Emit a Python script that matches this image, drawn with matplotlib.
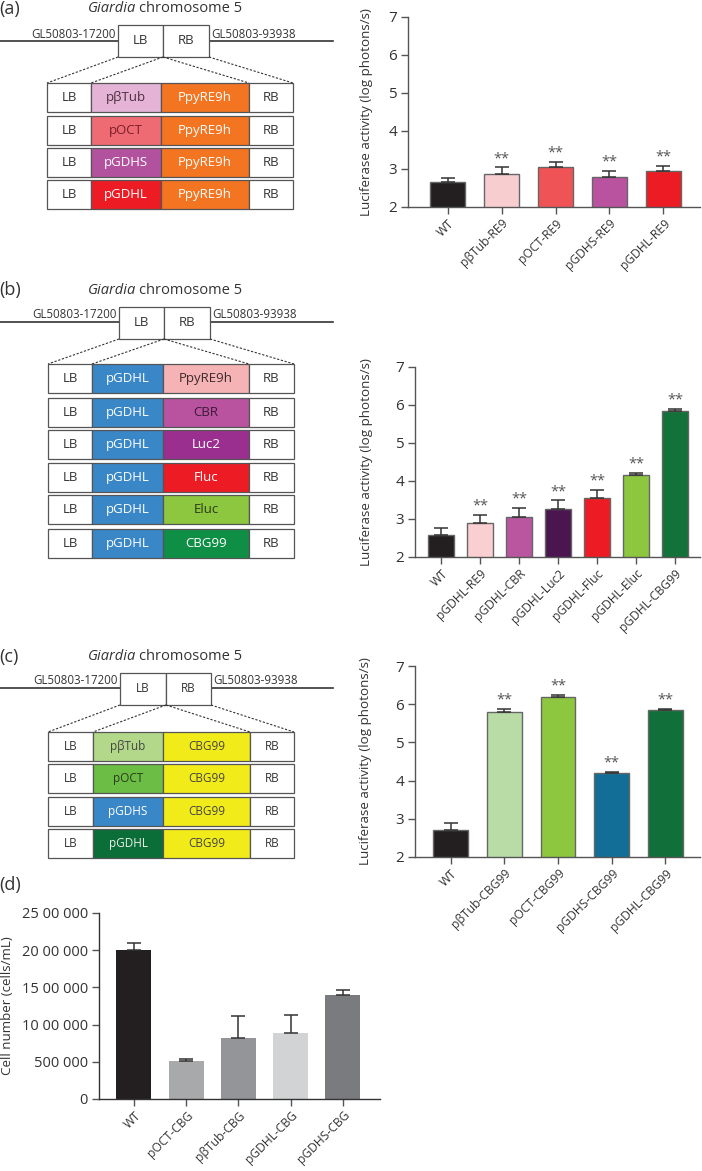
import matplotlib
matplotlib.use("Agg")
import matplotlib.pyplot as plt
from matplotlib.patches import Rectangle

plt.rcParams['font.family'] = ['Open Sans', 'DejaVu Sans']
TXT = '#333333'
AXC = '#555555'

# ---------------- data ----------------
a_labels = ['WT', 'pβTub-RE9', 'pOCT-RE9', 'pGDHS-RE9', 'pGDHL-RE9']
a_values = [2.65, 2.87, 3.04, 2.79, 2.96]
a_err = [0.11, 0.17, 0.14, 0.15, 0.13]
a_sig = ['', '**', '**', '**', '**']
a_colors = ['#231f20', '#f8cdd0', '#ef5356', '#b9529f', '#ed1c24']

b_labels = ['WT', 'pGDHL-RE9', 'pGDHL-CBR', 'pGDHL-Luc2', 'pGDHL-Fluc', 'pGDHL-Eluc', 'pGDHL-CBG99']
b_values = [2.57, 2.90, 3.05, 3.26, 3.56, 4.15, 5.85]
b_err = [0.19, 0.21, 0.24, 0.23, 0.21, 0.06, 0.04]
b_sig = ['', '**', '**', '**', '**', '**', '**']
b_colors = ['#231f20', '#f9cfd2', '#b9569f', '#4b154f', '#ed1c24', '#8dc63f', '#12723a']

c_labels = ['WT', 'pβTub-CBG99', 'pOCT-CBG99', 'pGDHS-CBG99', 'pGDHL-CBG99']
c_values = [2.71, 5.79, 6.20, 4.20, 5.85]
c_err = [0.17, 0.09, 0.05, 0.03, 0.03]
c_sig = ['', '**', '**', '**', '**']
c_colors = ['#231f20', '#b9dca6', '#8dc63f', '#126e96', '#11703a']

d_labels = ['WT', 'pOCT-CBG', 'pβTub-CBG', 'pGDHL-CBG', 'pGDHS-CBG']
d_values = [19970000, 5160000, 8260000, 8840000, 13960000]
d_err = [990000, 180000, 2830000, 2460000, 720000]
d_colors = ['#231f20', '#a8a9ab', '#939598', '#d1d3d4', '#7a7b7f']
d_ticks = [0, 5000000, 10000000, 15000000, 20000000, 25000000]
d_ticklabels = ['0', '500 000', '10 00 000', '15 00 000', '20 00 000', '25 00 000']

lum_ticks = [2, 3, 4, 5, 6, 7]

# diagram content
a_promoters = ['pβTub', 'pOCT', 'pGDHS', 'pGDHL']
a_prom_colors = ['#e5b3d6', '#ef6b73', '#b2519e', '#ed1c24']
a_prom_text = ['#4a3040', '#7a1f25', 'white', 'white']
a_genes = ['PpyRE9h'] * 4
a_gene_colors = ['#f47521'] * 4
a_gene_text = ['white'] * 4

b_promoters = ['pGDHL'] * 6
b_prom_colors = ['#3a87c8'] * 6
b_prom_text = ['white'] * 6
b_genes = ['PpyRE9h', 'CBR', 'Luc2', 'Fluc', 'Eluc', 'CBG99']
b_gene_colors = ['#f6b3b5', '#b9539f', '#9b2f8f', '#ed1c24', '#8dc63f', '#0f8f46']
b_gene_text = ['#3a2a2a', '#3a1a35', 'white', 'white', '#2a3a1a', 'white']

c_promoters = ['pβTub', 'pOCT', 'pGDHS', 'pGDHL']
c_prom_colors = ['#b3d88a', '#6cbd45', '#3a87c8', '#0b6e38']
c_prom_text = ['#444444', '#2a3a1a', 'white', '#e8f0e8']
c_genes = ['CBG99'] * 4
c_gene_colors = ['#f2eb1a'] * 4
c_gene_text = ['#444444'] * 4

# ---------------- figure ----------------
W, H = 702, 1171
fig = plt.figure(figsize=(W / 100, H / 100), dpi=100)
dax = fig.add_axes([0, 0, 1, 1])
dax.set_xlim(0, W)
dax.set_ylim(H, 0)
dax.axis('off')


def draw_diagram(letter, top, line_y, box_top, box_bot, bx, rx, row_tops, row_h,
                 proms, pcols, ptxt, genes, gcols, gtxt, fs=9.5):
    dax.text(-1, top, letter, fontsize=13, color=TXT, va='center', ha='left')
    dax.text(136, top, 'Giardia', fontsize=10.5, color=TXT, va='center', ha='right', style='italic')
    dax.text(139, top, 'chromosome 5', fontsize=10.5, color=TXT, va='center', ha='left')
    dax.plot([0, 333], [line_y, line_y], color='#333333', lw=1.2, zorder=1)
    dax.add_patch(Rectangle((bx[0], box_top), bx[1] - bx[0], box_bot - box_top,
                            facecolor='white', edgecolor='#555555', lw=0.9, zorder=2))
    dax.add_patch(Rectangle((bx[1], box_top), bx[2] - bx[1], box_bot - box_top,
                            facecolor='white', edgecolor='#555555', lw=0.9, zorder=2))
    mid = (box_top + box_bot) / 2
    dax.text((bx[0] + bx[1]) / 2, mid, 'LB', fontsize=fs, color=TXT, ha='center', va='center', zorder=3)
    dax.text((bx[1] + bx[2]) / 2, mid, 'RB', fontsize=fs, color=TXT, ha='center', va='center', zorder=3)
    dax.text(bx[0] - 2, line_y - 7, 'GL50803-17200', fontsize=8.3, color=TXT, ha='right', va='center')
    dax.text(bx[2] + 2, line_y - 7, 'GL50803-93938', fontsize=8.3, color=TXT, ha='left', va='center')
    r0 = row_tops[0]
    for (x0, y0), (x1, y1) in [((bx[0], box_bot), (rx[0], r0)), ((bx[1], box_bot), (rx[1], r0)),
                               ((bx[1], box_bot), (rx[3], r0)), ((bx[2], box_bot), (rx[4], r0))]:
        dax.plot([x0, x1], [y0, y1], color='#333333', lw=0.8, ls=(0, (2, 1.5)))
    for i, yt in enumerate(row_tops):
        segs = [('LB', 'white', TXT), (proms[i], pcols[i], ptxt[i]),
                (genes[i], gcols[i], gtxt[i]), ('RB', 'white', TXT)]
        for k, (lab, fc, tc) in enumerate(segs):
            dax.add_patch(Rectangle((rx[k], yt), rx[k + 1] - rx[k], row_h,
                                    facecolor=fc, edgecolor='#555555', lw=0.9))
            dax.text((rx[k] + rx[k + 1]) / 2, yt + row_h / 2, lab, fontsize=fs,
                     color=tc, ha='center', va='center')


draw_diagram('(a)', 9, 41, 25, 57, (118, 163, 209), (47, 91, 161, 249, 293),
             [83, 116, 148, 180], 28.5,
             a_promoters, a_prom_colors, a_prom_text, a_genes, a_gene_colors, a_gene_text)
draw_diagram('(b)', 290, 322, 307, 339, (119, 164, 210), (48, 92, 163, 249, 294),
             [364, 398, 430, 463, 495, 529], 29,
             b_promoters, b_prom_colors, b_prom_text, b_genes, b_gene_colors, b_gene_text)
draw_diagram('(c)', 657, 688, 673, 705, (120, 166, 211), (48, 93, 163, 250, 294),
             [732, 764, 797, 829], 29,
             c_promoters, c_prom_colors, c_prom_text, c_genes, c_gene_colors, c_gene_text,
             fs=8.5)

dax.text(-1, 885, '(d)', fontsize=13, color=TXT, va='center', ha='left')


def make_axes(left, right, top, bottom):
    return fig.add_axes([left / W, 1 - bottom / H, (right - left) / W, (bottom - top) / H])


def style(ax):
    for s in ['top', 'right']:
        ax.spines[s].set_visible(False)
    for s in ['left', 'bottom']:
        ax.spines[s].set_color(AXC)
        ax.spines[s].set_linewidth(1.0)
    ax.tick_params(axis='both', colors=AXC, length=5, width=1.0, labelcolor=TXT)
    ax.tick_params(axis='y', labelsize=11, pad=3)
    ax.tick_params(axis='x', labelsize=8.7, pad=2)


def lum_chart(ax, labels, values, err, colors, sig, xlim, ylab_x, ylab_y):
    n = len(labels)
    x = list(range(n))
    ax.bar(x, values, width=0.65, color=colors, edgecolor='#666666', linewidth=1.0, zorder=2,
           bottom=0)
    ax.errorbar(x, values, yerr=[[0] * n, err], fmt='none', ecolor='#333333',
                elinewidth=1.1, capsize=5, capthick=1.1, zorder=3)
    for i in range(n):
        if sig[i]:
            ax.annotate(sig[i], xy=(i, values[i] + err[i]), xytext=(0, 1),
                        textcoords='offset points', ha='center', va='bottom',
                        fontsize=10.5, color='#555555')
    ax.set_ylim(2, 7)
    ax.set_yticks(lum_ticks)
    ax.set_xlim(*xlim)
    ax.set_xticks(x)
    ax.set_xticklabels(labels, rotation=45, ha='right', rotation_mode='anchor')
    style(ax)
    fig.text(ylab_x / W, 1 - ylab_y / H, 'Luciferase activity (log photons/s)', rotation=90,
             ha='center', va='center', fontsize=9.6, color=TXT)


axa = make_axes(408, 700, 17, 207)
lum_chart(axa, a_labels, a_values, a_err, a_colors, a_sig, (-0.74, 4.68), 367, 112)

axb = make_axes(415, 700, 367, 557)
lum_chart(axb, b_labels, b_values, b_err, b_colors, b_sig, (-0.67, 6.64), 367, 462)

axc = make_axes(415, 700, 666, 857)
lum_chart(axc, c_labels, c_values, c_err, c_colors, c_sig, (-0.67, 4.65), 366, 761)

axd = make_axes(99, 380, 913, 1099)
xd = list(range(len(d_labels)))
axd.bar(xd, d_values, width=0.67, color=d_colors, edgecolor='none', zorder=2)
axd.errorbar(xd, d_values, yerr=[[0] * len(xd), d_err], fmt='none', ecolor='#333333',
             elinewidth=1.1, capsize=5, capthick=1.1, zorder=3)
axd.set_ylim(0, 25000000)
axd.set_yticks(d_ticks)
axd.set_yticklabels(d_ticklabels)
axd.set_xlim(-0.67, 4.71)
axd.set_xticks(xd)
axd.set_xticklabels(d_labels, rotation=45, ha='right', rotation_mode='anchor')
style(axd)
axd.tick_params(axis='y', labelsize=10.5)
axd.spines['left'].set_color('#333333')
axd.spines['bottom'].set_color('#333333')
fig.text(8 / W, 1 - 1006 / H, 'Cell number (cells/mL)', rotation=90,
         ha='center', va='center', fontsize=9.6, color=TXT)

fig.savefig('out.png', dpi=100)
